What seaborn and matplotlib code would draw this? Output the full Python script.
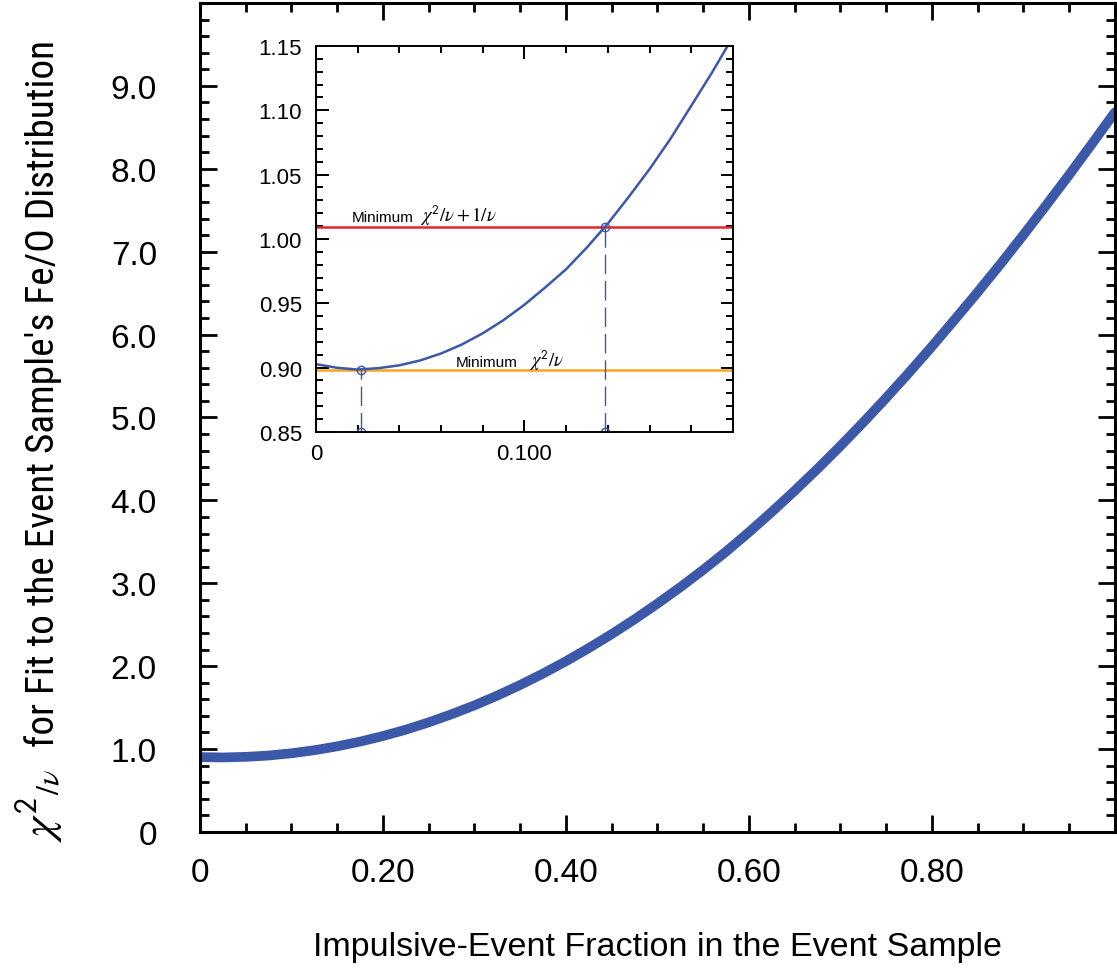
import numpy as np
import pandas as pd
import seaborn as sns
import matplotlib.pyplot as plt
from matplotlib import font_manager
from matplotlib.ticker import FixedLocator, MultipleLocator

# values (main panel)
frac = [0.000, 0.025, 0.050, 0.075, 0.100, 0.125, 0.150, 0.175, 0.200, 0.225,
        0.250, 0.275, 0.300, 0.325, 0.350, 0.375, 0.400, 0.425, 0.450, 0.475,
        0.500, 0.525, 0.550, 0.575, 0.600, 0.625, 0.650, 0.675, 0.700, 0.725,
        0.750, 0.775, 0.800, 0.825, 0.850, 0.875, 0.900, 0.925, 0.950, 0.975, 1.000]
chi2 = [0.903, 0.899, 0.906, 0.922, 0.949, 0.986, 1.033, 1.090, 1.157, 1.234,
        1.322, 1.420, 1.527, 1.645, 1.773, 1.911, 2.059, 2.218, 2.386, 2.565,
        2.754, 2.952, 3.161, 3.381, 3.615, 3.860, 4.115, 4.380, 4.655, 4.940,
        5.235, 5.540, 5.855, 6.180, 6.510, 6.850, 7.200, 7.560, 7.925, 8.300, 8.680]

# values (zoom on the minimum)
inset_frac = [0.00, 0.01, 0.02, 0.03, 0.04, 0.05, 0.06, 0.07, 0.08, 0.09, 0.10,
              0.11, 0.12, 0.13, 0.14, 0.15, 0.16, 0.17, 0.18, 0.19, 0.20]
inset_chi2 = [0.9027, 0.8999, 0.8985, 0.8996, 0.9018, 0.9056, 0.9110, 0.9180,
              0.9267, 0.9370, 0.9489, 0.9624, 0.9765, 0.9935, 1.0120, 1.0327,
              1.0543, 1.0778, 1.1035, 1.1295, 1.1571]

min_chi2 = 0.8985
min_plus_one = 1.009
best_frac = 0.0215
upper_frac = 0.1386

x_ticks = [0, 0.2, 0.4, 0.6, 0.8, 1.0]
x_labels = ['0', '0.20', '0.40', '0.60', '0.80', '']
y_ticks = [0, 1, 2, 3, 4, 5, 6, 7, 8, 9, 10]
y_labels = ['0', '1.0', '2.0', '3.0', '4.0', '5.0', '6.0', '7.0', '8.0', '9.0', '']

in_x_ticks = [0, 0.1, 0.2]
in_x_labels = ['0', '0.100', '']
in_y_ticks = [0.85, 0.90, 0.95, 1.00, 1.05, 1.10, 1.15]
in_y_labels = ['0.85', '0.90', '0.95', '1.00', '1.05', '1.10', '1.15']

blue = '#3c58a8'
red = '#e8232b'
orange = '#f5a623'

sns.set_theme(style='ticks')
plt.rcParams['font.family'] = ['Liberation Sans', 'DejaVu Sans']
plt.rcParams['mathtext.fontset'] = 'stix'


def narrow_font():
    # the y label in the reference is set in a condensed sans face
    entries = font_manager.fontManager.ttflist
    for want in ['Liberation Sans Narrow', 'Roboto Condensed', 'Open Sans Condensed']:
        for f in entries:
            if f.name == want and f.style == 'normal' and f.weight in (400, 'normal', 'regular'):
                return font_manager.FontProperties(fname=f.fname)
    for f in entries:
        if (f.stretch in ('condensed', 'semi-condensed')
                and f.style == 'normal' and f.weight in (400, 'normal', 'regular')
                and 'Mono' not in f.name and 'Serif' not in f.name):
            return font_manager.FontProperties(fname=f.fname)
    return font_manager.FontProperties(family='Liberation Sans')


df = pd.DataFrame({'frac': frac, 'chi2': chi2})
df_in = pd.DataFrame({'frac': inset_frac, 'chi2': inset_chi2})

fig = plt.figure(figsize=(11.17, 9.78), dpi=100)
ax = fig.add_axes([0.179, 0.1483, 0.819, 0.8476])

sns.lineplot(data=df, x='frac', y='chi2', ax=ax, color=blue, linewidth=7)
ax.set_xlim(0, 1.0)
ax.set_ylim(0, 10)
ax.xaxis.set_major_locator(FixedLocator(x_ticks))
ax.set_xticklabels(x_labels)
ax.yaxis.set_major_locator(FixedLocator(y_ticks))
ax.set_yticklabels(y_labels)
ax.xaxis.set_minor_locator(MultipleLocator(0.05))
ax.yaxis.set_minor_locator(MultipleLocator(0.2))
ax.tick_params(which='both', direction='in', top=True, right=True, width=2,
               color='black', labelsize=24, labelcolor='black')
ax.tick_params(which='major', length=12)
ax.tick_params(which='minor', length=6.5)
ax.tick_params(axis='x', which='major', pad=18)
ax.tick_params(axis='y', which='major', pad=31)
for s in ax.spines.values():
    s.set_linewidth(2.2)
    s.set_color('black')

ax.set_xlabel('Impulsive-Event Fraction in the Event Sample', fontsize=24.5, color='black')
ax.xaxis.set_label_coords(0.5, -0.12)

# y label: big chi^2/nu symbol followed by the condensed text
fig.text(54 / 1117, 1 - 842 / 978, r'$\chi^{\mathsf{2}}{}_{/\nu}$', fontsize=33,
         rotation=90, rotation_mode='anchor', ha='left', va='baseline', color='black')
ylab = ax.set_ylabel("for Fit to the Event Sample's Fe/O Distribution",
                     fontproperties=narrow_font(), fontsize=28, color='black',
                     ha='left', va='baseline', rotation_mode='anchor')
ax.yaxis.set_label_coords(-0.160, 0.1037)
fig.canvas.draw()
h = ylab.get_window_extent().height
ylab.set_fontsize(28 * 707 / h)

# inset
ins = fig.add_axes([0.2829, 0.5573, 0.3733, 0.3947])
ins.axhline(min_plus_one, color=red, linewidth=1.8)
ins.axhline(min_chi2, color=orange, linewidth=1.8)
sns.lineplot(data=df_in, x='frac', y='chi2', ax=ins, color=blue, linewidth=1.8)
ins.vlines([best_frac, upper_frac], 0.85, [min_chi2, min_plus_one], colors=blue,
           linewidth=1.0, linestyles=(0, (14, 5)))
ins.plot([best_frac, upper_frac], [min_chi2, min_plus_one], 'o', mfc='none',
         mec=blue, ms=6, mew=1.0)
ins.plot([best_frac, upper_frac], [0.85, 0.85], 'o', mfc='none',
         mec=blue, ms=6, mew=1.0)
ins.text(0.0171, 1.0142, 'Minimum', fontsize=11, va='baseline', ha='left', color='black')
ins.text(0.0498, 1.0142, r'$\chi^{\mathsf{2}}/\nu + 1/\nu$', fontsize=13.5,
         va='baseline', ha='left', color='black')
ins.text(0.067, 0.901, 'Minimum', fontsize=11, va='baseline', ha='left', color='black')
ins.text(0.1024, 0.901, r'$\chi^{\mathsf{2}}/\nu$', fontsize=13.5,
         va='baseline', ha='left', color='black')
ins.set_xlim(0, 0.2)
ins.set_ylim(0.85, 1.15)
ins.xaxis.set_major_locator(FixedLocator(in_x_ticks))
ins.set_xticklabels(in_x_labels)
ins.yaxis.set_major_locator(FixedLocator(in_y_ticks))
ins.set_yticklabels(in_y_labels)
ins.xaxis.set_minor_locator(MultipleLocator(0.02))
ins.yaxis.set_minor_locator(MultipleLocator(0.01))
ins.tick_params(which='both', direction='in', top=True, right=True, width=1.4,
                color='black', labelsize=16, labelcolor='black')
ins.tick_params(which='major', length=9)
ins.tick_params(which='minor', length=5)
ins.tick_params(axis='x', which='major', pad=8)
ins.tick_params(axis='y', which='major', pad=10)
ins.set_xlabel('')
ins.set_ylabel('')
for s in ins.spines.values():
    s.set_linewidth(1.4)
    s.set_color('black')

fig.savefig('out.png', dpi=100)
